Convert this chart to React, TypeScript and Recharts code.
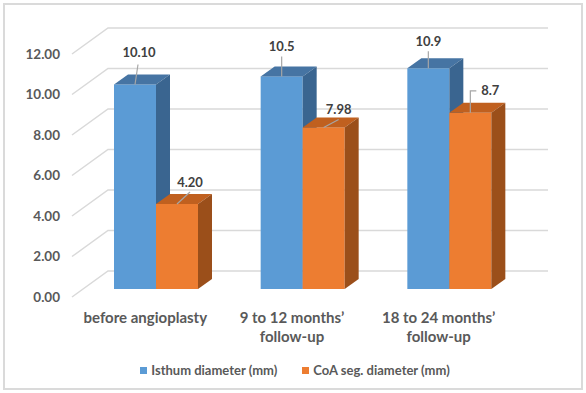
import { BarChart, Bar, XAxis, YAxis, CartesianGrid, Legend, LabelList } from 'recharts';

const categories = ['before angioplasty', '9 to 12 months’\nfollow-up', '18 to 24 months’\nfollow-up'];
const isthumValues = [10.1, 10.5, 10.9];
const coaValues = [4.2, 7.98, 8.7];
const isthumLabels = ['10.10', '10.5', '10.9'];
const coaLabels = ['4.20', '7.98', '8.7'];
const yTicks = [0, 2, 4, 6, 8, 10, 12];
const seriesOrder = ['isthum', 'coa'];

const data = categories.map((name, i) => ({
  name,
  isthum: isthumValues[i],
  coa: coaValues[i],
}));

const FONT = 'Lato, "Open Sans", sans-serif';
const AXIS_TEXT = '#595959';
const GRID = '#d9d9d9';

// 3D geometry: bars sit a bit behind the front plane, the back wall further back
const BAR_SHIFT = { x: 11, y: 8 };
const BAR_DEPTH = { x: 14, y: 10 };
const WALL_DEPTH = { x: 36, y: 26 };

const BLUE = { front: '#5b9bd5', top: '#4674a3', side: '#3a6590' };
const ORANGE = { front: '#ed7d31', top: '#c0601f', side: '#9b4f1a' };

// label placement relative to the front-top centre of each bar (excel "best fit")
const isthumLabelPos = [
  { dx: 4, dy: -32, leader: [[3, -20], [0, 0]] },
  { dx: 0, dy: -30, leader: [[0, -20], [0, 0]] },
  { dx: 0, dy: -27, leader: [[0, -17], [0, 0]] },
];
const coaLabelPos = [
  { dx: 13, dy: -22, leader: [[13, -12], [0, 0]] },
  { dx: 15, dy: -18, leader: [[15, -8], [0, 0]] },
  { dx: 20, dy: -22, leader: [[6, -22], [0, -22], [0, 0]] },
];

function Bar3D(props: any) {
  const { x, y, width, height, colors } = props;
  if (height == null || width == null) return null;
  const fx = x + BAR_SHIFT.x;
  const fy = y - BAR_SHIFT.y;
  const w = width;
  const h = height;
  const dx = BAR_DEPTH.x;
  const dy = BAR_DEPTH.y;
  return (
    <g>
      <rect x={fx} y={fy} width={w} height={h} fill={colors.front} />
      <polygon
        points={`${fx},${fy} ${fx + dx},${fy - dy} ${fx + w + dx},${fy - dy} ${fx + w},${fy}`}
        fill={colors.top}
      />
      <polygon
        points={`${fx + w},${fy} ${fx + w + dx},${fy - dy} ${fx + w + dx},${fy + h - dy} ${fx + w},${fy + h}`}
        fill={colors.side}
      />
    </g>
  );
}

function makeLabel(labels: string[], positions: typeof isthumLabelPos) {
  return (props: any) => {
    const { x, y, width, index } = props;
    const pos = positions[index];
    const cx = x + width / 2 + BAR_SHIFT.x;
    const top = y - BAR_SHIFT.y;
    const pts = pos.leader.map(([px, py]) => `${cx + px},${top + py}`).join(' ');
    return (
      <g>
        <polyline points={pts} fill="none" stroke="#a6a6a6" strokeWidth={1.2} />
        <text
          x={cx + pos.dx}
          y={top + pos.dy}
          dy="0.35em"
          textAnchor="middle"
          fontFamily={FONT}
          fontWeight={700}
          fontSize={13}
          fill="#404040"
        >
          {labels[index]}
        </text>
      </g>
    );
  };
}

function WallLine(props: any) {
  const { x1, x2, y1 } = props;
  const bx = x1 + WALL_DEPTH.x;
  const by = y1 - WALL_DEPTH.y;
  return (
    <polyline
      points={`${x1},${y1} ${bx},${by} ${x2 + WALL_DEPTH.x},${by}`}
      fill="none"
      stroke={GRID}
      strokeWidth={1.5}
    />
  );
}

function YTick({ x, y, payload }: any) {
  return (
    <text x={x} y={y} dy="0.35em" textAnchor="end" fontFamily={FONT} fontWeight={700} fontSize={13.5} fill={AXIS_TEXT}>
      {Number(payload.value).toFixed(2)}
    </text>
  );
}

function XTick({ x, y, payload }: any) {
  const lines = String(payload.value).split('\n');
  return (
    <text x={x} y={y} textAnchor="middle" fontFamily={FONT} fontWeight={700} fontSize={15} fill={AXIS_TEXT}>
      {lines.map((line, i) => (
        <tspan key={i} x={x} dy={i === 0 ? 24 : 19}>
          {line}
        </tspan>
      ))}
    </text>
  );
}

function LegendContent({ payload }: any) {
  const items = [...(payload || [])].sort(
    (a: any, b: any) => seriesOrder.indexOf(a.dataKey) - seriesOrder.indexOf(b.dataKey),
  );
  return (
    <div style={{ display: 'flex', justifyContent: 'center', gap: 25, fontFamily: FONT, fontWeight: 700, fontSize: 13, color: AXIS_TEXT }}>
      {items.map((entry: any, i: number) => (
        <div key={i} style={{ display: 'flex', alignItems: 'center', gap: 4 }}>
          <span style={{ width: 7, height: 7, background: entry.color, display: 'inline-block' }} />
          <span>{entry.value}</span>
        </div>
      ))}
    </div>
  );
}

export default function App() {
  return (
    <div style={{ position: 'absolute', left: 0, top: 0, width: 586, height: 393, background: '#fff' }}>
      <div
        style={{
          position: 'absolute',
          left: 3,
          top: 3,
          width: 580,
          height: 387,
          boxSizing: 'border-box',
          border: '2px solid #dadada',
        }}
      />
      <BarChart
        width={586}
        height={393}
        data={data}
        margin={{ top: 54, right: 74, left: 0, bottom: 36 }}
        barGap={0}
        barSize={42}
        style={{ position: 'absolute', left: 0, top: 0 }}
      >
        <CartesianGrid vertical={false} horizontal={(p: any) => <WallLine key={p.key ?? p.index} {...p} />} />
        <XAxis dataKey="name" axisLine={false} tickLine={false} tickSize={0} height={60} interval={0} tick={<XTick />} />
        <YAxis
          domain={[0, 12]}
          ticks={yTicks}
          width={72}
          axisLine={false}
          tickLine={false}
          tickSize={0}
          tickMargin={12}
          tick={<YTick />}
        />
        <Legend
          layout="horizontal"
          verticalAlign="middle"
          align="center"
          content={<LegendContent />}
          wrapperStyle={{ top: 362, left: 2, width: 586, height: 18 }}
        />
        <Bar
          dataKey="isthum"
          name="Isthum diameter (mm)"
          fill={BLUE.front}
          isAnimationActive={false}
          shape={(p: any) => <Bar3D {...p} colors={BLUE} />}
        >
          <LabelList dataKey="isthum" content={makeLabel(isthumLabels, isthumLabelPos)} />
        </Bar>
        <Bar
          dataKey="coa"
          name="CoA seg. diameter (mm)"
          fill={ORANGE.front}
          isAnimationActive={false}
          shape={(p: any) => <Bar3D {...p} colors={ORANGE} />}
        >
          <LabelList dataKey="coa" content={makeLabel(coaLabels, coaLabelPos)} />
        </Bar>
      </BarChart>
    </div>
  );
}
